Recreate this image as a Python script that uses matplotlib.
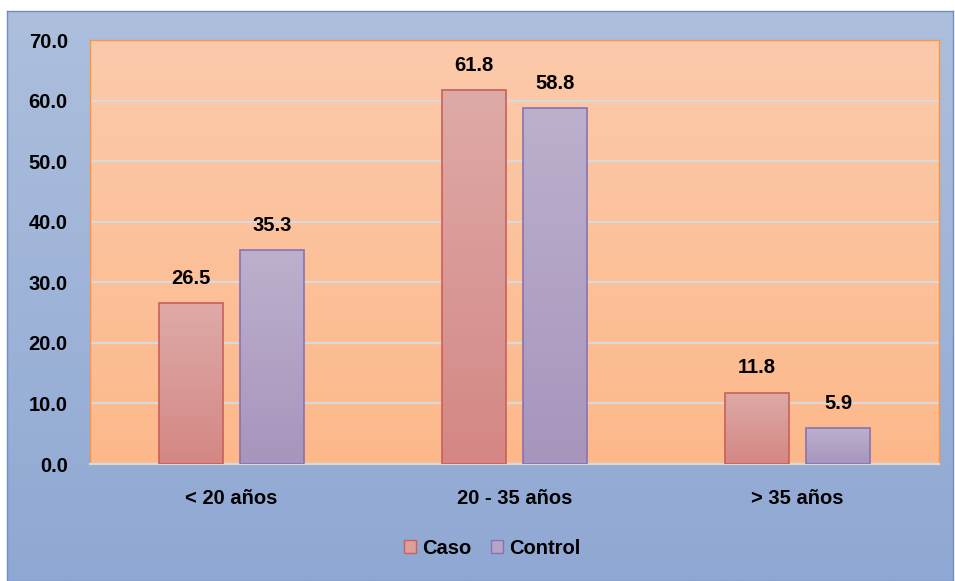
import numpy as np
import matplotlib.pyplot as plt
from matplotlib.colors import LinearSegmentedColormap
from matplotlib.patches import Patch

# data
grupos = ['< 20 años', '20 - 35 años', '> 35 años']
caso = [26.5, 61.8, 11.8]
control = [35.3, 58.8, 5.9]

plt.rcParams['font.family'] = ['Liberation Sans', 'DejaVu Sans']
plt.rcParams['font.weight'] = 'bold'
fs = 14.5

fig = plt.figure(figsize=(9.55, 5.81), dpi=100)
fig.patch.set_facecolor('white')

# blue gradient background panel
bg = fig.add_axes([7/955, 0, 946/955, 570/581], zorder=-5)
bg_cmap = LinearSegmentedColormap.from_list('bg', ['#8FA8D3', '#ADBFDD'])
bg.imshow(np.linspace(0, 1, 256).reshape(-1, 1), aspect='auto', cmap=bg_cmap,
          origin='lower', extent=[0, 1, 0, 1])
bg.set_xlim(0, 1)
bg.set_ylim(0, 1)
bg.set_xticks([])
bg.set_yticks([])
for s in bg.spines.values():
    s.set_color('#6F8FC4')
    s.set_linewidth(1.0)

ax = fig.add_axes([90/955, 1 - 464/581, 849/955, 424/581])
ax.set_facecolor('none')

x = np.arange(len(grupos))
w = 0.223
off = 0.143

ax.set_xlim(-0.5, 2.5)
ax.set_ylim(0, 70)

# orange plot area gradient
pa_cmap = LinearSegmentedColormap.from_list('pa', ['#FDB88A', '#FBCAAB'])
ax.imshow(np.linspace(0, 1, 256).reshape(-1, 1), aspect='auto', cmap=pa_cmap,
          origin='lower', extent=[-0.5, 2.5, 0, 70], zorder=0)

ax.set_yticks(np.arange(0, 71, 10))
ax.grid(axis='y', color='#D9D9D9', linewidth=1.6, zorder=1)
ax.set_axisbelow(True)

caso_cmap = LinearSegmentedColormap.from_list('caso', ['#D48784', '#DEAAA7'])
ctrl_cmap = LinearSegmentedColormap.from_list('ctrl', ['#A795BC', '#BCB0CD'])

grad = np.linspace(0, 1, 256).reshape(-1, 1)


def gradient_bars(xs, vals, cmap, edge):
    bars = ax.bar(xs, vals, width=w, facecolor='none', edgecolor=edge,
                  linewidth=1.2, zorder=4)
    for b in bars:
        x0 = b.get_x()
        im = ax.imshow(grad, aspect='auto', cmap=cmap, origin='lower',
                       extent=[x0, x0 + b.get_width(), 0, b.get_height()],
                       zorder=3)
        im.set_clip_path(b)
    return bars


b1 = gradient_bars(x - off, caso, caso_cmap, '#C8605C')
b2 = gradient_bars(x + off, control, ctrl_cmap, '#8A72AE')

for bars, vals in ((b1, caso), (b2, control)):
    for b, v in zip(bars, vals):
        ax.text(b.get_x() + b.get_width() / 2, v + 2.5, f'{v:.1f}',
                ha='center', va='bottom', fontsize=fs, fontweight='bold')

ax.set_xlim(-0.5, 2.5)
ax.set_ylim(0, 70)
ax.set_xticks(x)
ax.set_xticklabels(grupos, fontsize=fs, fontweight='bold')
ax.set_yticklabels([f'{v:.1f}' for v in np.arange(0, 71, 10)],
                   fontsize=fs, fontweight='bold')
ax.tick_params(axis='both', length=0)
ax.tick_params(axis='x', pad=18)
ax.tick_params(axis='y', pad=16)

for side in ('left', 'top', 'right'):
    ax.spines[side].set_color('#F79646')
    ax.spines[side].set_linewidth(1.0)
ax.spines['bottom'].set_color('#D9D9D9')
ax.spines['bottom'].set_linewidth(1.6)

handles = [Patch(facecolor='#DBA09D', edgecolor='#C8605C', label='Caso'),
           Patch(facecolor='#B4A6C8', edgecolor='#8A72AE', label='Control')]
fig.legend(handles=handles, loc='center', bbox_to_anchor=(492/955, 1 - 548/581),
           ncol=2, frameon=False, fontsize=fs, handlelength=0.6,
           handleheight=0.6, handletextpad=0.3, columnspacing=1.0)

fig.savefig('out.png', dpi=100)
